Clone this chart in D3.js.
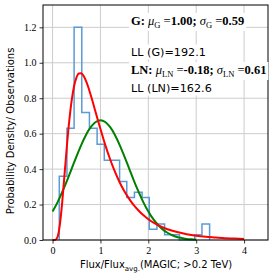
<!DOCTYPE html>
<html>
<head>
<meta charset="utf-8">
<script src="https://cdn.jsdelivr.net/npm/d3@7"></script>
<style>
  body { margin: 0; background: #fff; }
  svg { display: block; }
</style>
</head>
<body>
<div id="chart"></div>
<script>
// Histogram (density)
const binEdges = [0.14, 0.30, 0.45, 0.61, 0.77, 0.93, 1.08, 1.24, 1.40, 1.55, 1.71,
  1.87, 2.02, 2.18, 2.34, 2.50, 2.65, 2.81, 2.97, 3.12, 3.28];
const binDensity = [0.36, 0.63, 1.20, 0.72, 0.63, 0.54, 0.45, 0.45, 0.33, 0.24,
  0.27, 0.24, 0.06, 0.09, 0.03, 0.03, 0, 0, 0.03, 0.09];

// Gaussian fit (green)
const gaussX = [0, 0.1, 0.2, 0.3, 0.4, 0.5, 0.6, 0.7, 0.8, 0.9, 1.0, 1.1, 1.2, 1.3, 1.4, 1.5,
  1.6, 1.7, 1.8, 1.9, 2.0, 2.1, 2.2, 2.3, 2.4, 2.5, 2.6, 2.7, 2.8, 2.9, 3.0];
const gaussY = [0.161, 0.211, 0.270, 0.334, 0.403, 0.472, 0.537, 0.594, 0.638, 0.666, 0.676,
  0.666, 0.638, 0.594, 0.537, 0.472, 0.403, 0.334, 0.270, 0.211, 0.161, 0.119, 0.086,
  0.060, 0.041, 0.027, 0.017, 0.011, 0.006, 0.004, 0.002];

// Log-normal fit (red)
const lognX = [0, 0.05, 0.1, 0.15, 0.2, 0.25, 0.3, 0.35, 0.4, 0.45, 0.5, 0.55, 0.6, 0.65, 0.7,
  0.75, 0.8, 0.9, 1.0, 1.1, 1.2, 1.3, 1.4, 1.5, 1.6, 1.7, 1.8, 1.9, 2.0, 2.2, 2.4, 2.6, 2.8,
  3.0, 3.2, 3.4, 3.6, 3.8, 4.0];
const lognY = [0, 0.000, 0.015, 0.083, 0.210, 0.370, 0.533, 0.676, 0.789, 0.869, 0.918, 0.940,
  0.941, 0.925, 0.896, 0.859, 0.815, 0.721, 0.626, 0.537, 0.457, 0.387, 0.326, 0.275, 0.232,
  0.195, 0.165, 0.139, 0.117, 0.084, 0.061, 0.045, 0.033, 0.024, 0.018, 0.014, 0.010, 0.008, 0.006];

// Tick labels
const xTicks = [0, 1, 2, 3, 4];
const yTicks = [0.0, 0.2, 0.4, 0.6, 0.8, 1.0, 1.2];

// Fit results shown in the text box
const gaussFit = { mu: '1.00', sigma: '0.59', ll: '192.1' };
const lognFit = { mu: '-0.18', sigma: '0.61', ll: '162.6' };

const width = 274;
const height = 273;
const margin = { top: 5, right: 6, bottom: 33, left: 43 };

const svg = d3.select('#chart').append('svg')
  .attr('width', width)
  .attr('height', height);

const x = d3.scaleLinear()
  .domain([-0.2, 4.5])
  .range([margin.left, width - margin.right]);

const y = d3.scaleLinear()
  .domain([0, 1.326])
  .range([height - margin.bottom, margin.top]);

const serif = "'Liberation Serif', 'DejaVu Serif', serif";
const sans = "'DejaVu Sans', sans-serif";

// Grid
svg.append('g')
  .selectAll('line.vgrid')
  .data(xTicks)
  .enter()
  .append('line')
  .attr('x1', d => x(d)).attr('x2', d => x(d))
  .attr('y1', y.range()[0]).attr('y2', y.range()[1])
  .attr('stroke', '#cccccc')
  .attr('stroke-width', 1);

svg.append('g')
  .selectAll('line.hgrid')
  .data(yTicks)
  .enter()
  .append('line')
  .attr('x1', x.range()[0]).attr('x2', x.range()[1])
  .attr('y1', d => y(d)).attr('y2', d => y(d))
  .attr('stroke', '#cccccc')
  .attr('stroke-width', 1);

// Histogram as a step outline
const stepPts = [[binEdges[0], 0]];
binDensity.forEach((v, i) => {
  stepPts.push([binEdges[i], v]);
  stepPts.push([binEdges[i + 1], v]);
});
stepPts.push([binEdges[binEdges.length - 1], 0]);

svg.append('path')
  .datum(stepPts)
  .attr('d', d3.line().x(d => x(d[0])).y(d => y(d[1])))
  .attr('fill', 'none')
  .attr('stroke', '#5b9bd5')
  .attr('stroke-width', 1.5);

// Fit curves
const curve = d3.line()
  .x(d => x(d[0]))
  .y(d => y(d[1]))
  .curve(d3.curveMonotoneX);

svg.append('path')
  .datum(gaussX.map((v, i) => [v, gaussY[i]]))
  .attr('d', curve)
  .attr('fill', 'none')
  .attr('stroke', '#008000')
  .attr('stroke-width', 2);

svg.append('path')
  .datum(lognX.map((v, i) => [v, lognY[i]]))
  .attr('d', curve)
  .attr('fill', 'none')
  .attr('stroke', '#ff0000')
  .attr('stroke-width', 2);

// Axes
const xAxis = svg.append('g')
  .attr('transform', `translate(0,${y.range()[0]})`)
  .call(d3.axisBottom(x).tickValues(xTicks).tickFormat(d3.format('d')).tickSize(3.5).tickPadding(3));

const yAxis = svg.append('g')
  .attr('transform', `translate(${x.range()[0]},0)`)
  .call(d3.axisLeft(y).tickValues(yTicks).tickFormat(d3.format('.1f')).tickSize(3.5).tickPadding(3));

[xAxis, yAxis].forEach(g => {
  g.select('.domain').remove();
  g.selectAll('text')
    .style('font-family', serif)
    .style('font-size', '10px')
    .attr('fill', '#000');
  g.selectAll('line').attr('stroke', '#000').attr('stroke-width', 0.8);
});

// Frame
svg.append('rect')
  .attr('x', x.range()[0])
  .attr('y', y.range()[1])
  .attr('width', x.range()[1] - x.range()[0])
  .attr('height', y.range()[0] - y.range()[1])
  .attr('fill', 'none')
  .attr('stroke', '#000')
  .attr('stroke-width', 1);

// Axis labels
const xLabel = svg.append('text')
  .attr('x', 156)
  .attr('y', 268)
  .attr('text-anchor', 'middle')
  .style('font-family', sans)
  .style('font-size', '10px');
xLabel.append('tspan').text('Flux/Flux');
xLabel.append('tspan').attr('dy', 2.5).style('font-size', '7px').text('avg.');
xLabel.append('tspan').attr('dy', -2.5).text('(MAGIC; >0.2 TeV)');

svg.append('text')
  .attr('transform', 'translate(14,131) rotate(-90)')
  .attr('text-anchor', 'middle')
  .style('font-family', sans)
  .style('font-size', '10px')
  .text('Probability Density/ Observations');

// Fit summary text with white boxes
const notes = svg.append('g');

function addBox(t) {
  const b = t.node().getBBox();
  notes.insert('rect', 'text')
    .attr('x', b.x - 2)
    .attr('y', b.y - 1)
    .attr('width', b.width + 4)
    .attr('height', b.height + 2)
    .attr('fill', '#fff');
}

function fitLine(yPos, name, fit) {
  const t = notes.append('text')
    .attr('x', 131)
    .attr('y', yPos)
    .style('font-family', serif)
    .style('font-size', '12.5px');
  t.append('tspan').style('font-weight', 'bold').text(name + ': ');
  t.append('tspan').style('font-style', 'italic').text('μ');
  t.append('tspan').attr('dy', 3).style('font-size', '8.5px').text(name);
  t.append('tspan').attr('dy', -3).text(' =');
  t.append('tspan').style('font-weight', 'bold').text(fit.mu + '; ');
  t.append('tspan').style('font-style', 'italic').text('σ');
  t.append('tspan').attr('dy', 3).style('font-size', '8.5px').text(name);
  t.append('tspan').attr('dy', -3).text(' =');
  t.append('tspan').style('font-weight', 'bold').text(fit.sigma);
  addBox(t);
}

function llLine(yPos, name, fit) {
  const t = notes.append('text')
    .attr('x', 131)
    .attr('y', yPos)
    .style('font-family', sans)
    .style('font-size', '11.2px')
    .text(`LL (${name})=${fit.ll}`);
  addBox(t);
}

fitLine(25, 'G', gaussFit);
llLine(55.5, 'G', gaussFit);
fitLine(74, 'LN', lognFit);
llLine(91.5, 'LN', lognFit);
</script>
</body>
</html>
